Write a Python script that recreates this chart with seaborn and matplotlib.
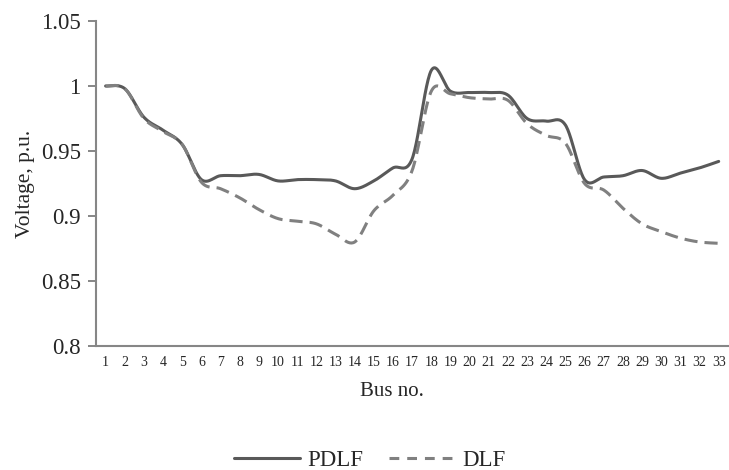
import numpy as np
import pandas as pd
import matplotlib
matplotlib.use("Agg")
import matplotlib.pyplot as plt
import seaborn as sns

# Bus voltage profile of the 33-bus feeder
bus = list(range(1, 34))
tick_labels = [str(b) for b in bus]
pdlf = [1.000, 0.998, 0.976, 0.966, 0.955, 0.928, 0.931, 0.931, 0.932, 0.927,
        0.928, 0.928, 0.927, 0.921, 0.927, 0.937, 0.944, 1.012, 0.996, 0.995,
        0.995, 0.993, 0.975, 0.973, 0.970, 0.928, 0.930, 0.931, 0.935, 0.929,
        0.933, 0.937, 0.942]
dlf = [1.000, 0.998, 0.975, 0.965, 0.955, 0.926, 0.921, 0.914, 0.905, 0.898,
       0.896, 0.894, 0.886, 0.880, 0.904, 0.916, 0.935, 0.996, 0.994, 0.991,
       0.990, 0.989, 0.971, 0.962, 0.956, 0.925, 0.920, 0.906, 0.894, 0.888,
       0.883, 0.880, 0.879]
series_names = ["PDLF", "DLF"]


def smooth(x, y, n=24):
    """Cubic Bezier curve through the points (smoothed line style)."""
    x = np.asarray(x, float)
    y = np.asarray(y, float)
    px = np.concatenate([[x[0]], x, [x[-1]]])
    py = np.concatenate([[y[0]], y, [y[-1]]])
    xs, ys = [], []
    t = np.linspace(0, 1, n, endpoint=False)
    for i in range(1, len(px) - 2):
        p0, p1, p2, p3 = px[i - 1], px[i], px[i + 1], px[i + 2]
        q0, q1, q2, q3 = py[i - 1], py[i], py[i + 1], py[i + 2]
        b1 = (p1, q1)
        c1 = (p1 + (p2 - p0) / 6, q1 + (q2 - q0) / 6)
        c2 = (p2 - (p3 - p1) / 6, q2 - (q3 - q1) / 6)
        b2 = (p2, q2)
        for k in range(2):
            pts = [b1[k], c1[k], c2[k], b2[k]]
            v = ((1 - t) ** 3 * pts[0] + 3 * (1 - t) ** 2 * t * pts[1]
                 + 3 * (1 - t) * t ** 2 * pts[2] + t ** 3 * pts[3])
            (xs if k == 0 else ys).append(v)
    xs.append([x[-1]])
    ys.append([y[-1]])
    return np.concatenate(xs), np.concatenate(ys)


frames = []
for name, vals in zip(series_names, [pdlf, dlf]):
    sx, sy = smooth(bus, vals)
    frames.append(pd.DataFrame({"bus": sx, "voltage": sy, "series": name}))
df = pd.concat(frames, ignore_index=True)

sns.set_theme(style="white")
plt.rcParams["font.family"] = ["Liberation Serif", "DejaVu Serif"]

fig = plt.figure(figsize=(7.29, 4.70), dpi=100)
ax = fig.add_axes([0.1317, 0.2638, 0.8673, 0.6915])

styles = {"PDLF": dict(color="#595959", linestyle="-"),
          "DLF": dict(color="#808080", linestyle=(0, (4.3, 2.3)))}
for name in series_names:
    sns.lineplot(data=df[df["series"] == name], x="bus", y="voltage",
                 estimator=None, sort=False, ax=ax, label=name,
                 linewidth=2.2, **styles[name])

ax.set_xlim(0.5, 33.5)
ax.set_ylim(0.8, 1.05)
ax.set_xticks(bus)
ax.set_xticklabels(tick_labels)
ax.set_yticks([0.8, 0.85, 0.9, 0.95, 1.0, 1.05])
ax.set_yticklabels(["0.8", "0.85", "0.9", "0.95", "1", "1.05"])
ax.tick_params(axis="x", length=0, pad=7, labelsize=10)
ax.tick_params(axis="y", length=6, width=1.4, color="#868686", pad=5,
               labelsize=16.5, left=True)

for side in ["top", "right"]:
    ax.spines[side].set_visible(False)
for side in ["left", "bottom"]:
    ax.spines[side].set_color("#868686")
    ax.spines[side].set_linewidth(1.5)

ax.set_xlabel("Bus no.", fontsize=15)
ax.set_ylabel("Voltage, p.u.", fontsize=15.5)
ax.xaxis.set_label_coords(0.468, -0.110)
ax.yaxis.set_label_coords(-0.097, 0.5)

leg = ax.legend(loc="center", bbox_to_anchor=(0.507, 0.021),
                bbox_transform=fig.transFigure, ncol=2, frameon=False,
                fontsize=16.5, handlelength=2.9, handletextpad=0.3,
                columnspacing=1.1)
# shorter dashes in the legend key
leg.get_lines()[1].set_linestyle((0, (3.2, 2.6)))

fig.savefig("out.png", dpi=100)
